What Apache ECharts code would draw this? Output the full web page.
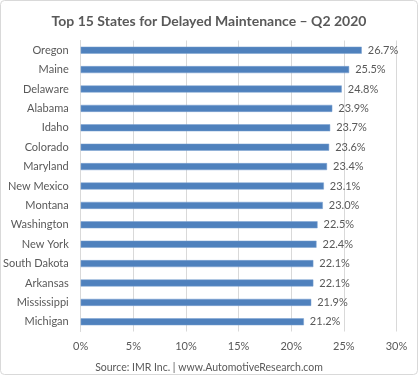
<!DOCTYPE html>
<html><head><meta charset="utf-8">
<script src="https://cdn.jsdelivr.net/npm/echarts@6/dist/echarts.min.js"></script>
<style>html,body{margin:0;padding:0;background:#fff}#c{width:418px;height:375px}</style>
</head><body><div id="c"></div>
<script>
const states = ["Oregon","Maine","Delaware","Alabama","Idaho","Colorado","Maryland","New Mexico","Montana","Washington","New York","South Dakota","Arkansas","Mississippi","Michigan"];
const values = [26.7,25.5,24.8,23.9,23.7,23.6,23.4,23.1,23.0,22.5,22.4,22.1,22.1,21.9,21.2];
const xTicks = [0,5,10,15,20,25,30];
const titleText = "Top 15 States for Delayed Maintenance \u2013 Q2 2020";
const sourceText = "Source: IMR Inc. | www.AutomotiveResearch.com";
const font = "Lato, 'Open Sans', sans-serif";
const chart = echarts.init(document.getElementById('c'));
chart.setOption({
  animation: false,
  backgroundColor: '#fff',
  title: [{
    text: titleText, left: 'center', top: 9,
    textStyle: {fontFamily: font, fontSize: 14, fontWeight: 'bold', color: '#595959'}
  },{
    text: sourceText, left: 'center', top: 357,
    textStyle: {fontFamily: font, fontSize: 10.5, fontWeight: 'normal', color: '#595959'}
  }],
  graphic: [{type:'rect', shape:{x:0.5,y:0.5,width:417,height:374,r:4}, style:{fill:'none',stroke:'#d9d9d9',lineWidth:1}, silent:true}],
  grid: {left: 77.5, right: 21.5, top: 40.5, bottom: 43.5, containLabel: false},
  xAxis: {
    type: 'value', min: 0, max: 30, interval: 5,
    axisLine: {show: false}, axisTick: {show: false},
    splitLine: {show: true, lineStyle: {color: '#d9d9d9', width: 1}},
    axisLabel: {formatter: v => xTicks.includes(v) ? v + '%' : '', fontFamily: font, fontSize: 11, color: '#595959', margin: 9}
  },
  yAxis: {
    type: 'category', data: states, inverse: true,
    axisLine: {show: true, lineStyle: {color: '#d9d9d9'}}, axisTick: {show: false},
    axisLabel: {fontFamily: font, fontSize: 11, color: '#595959', margin: 12}
  },
  series: [{
    type: 'bar', data: values, barWidth: 7,
    itemStyle: {color: '#4F81BD', borderColor: '#7aa0d0', borderWidth: 0.5},
    label: {show: true, position: 'right', distance: 6, formatter: p => p.value.toFixed(1) + '%', fontFamily: font, fontSize: 11, color: '#595959'}
  }]
});
</script></body></html>
